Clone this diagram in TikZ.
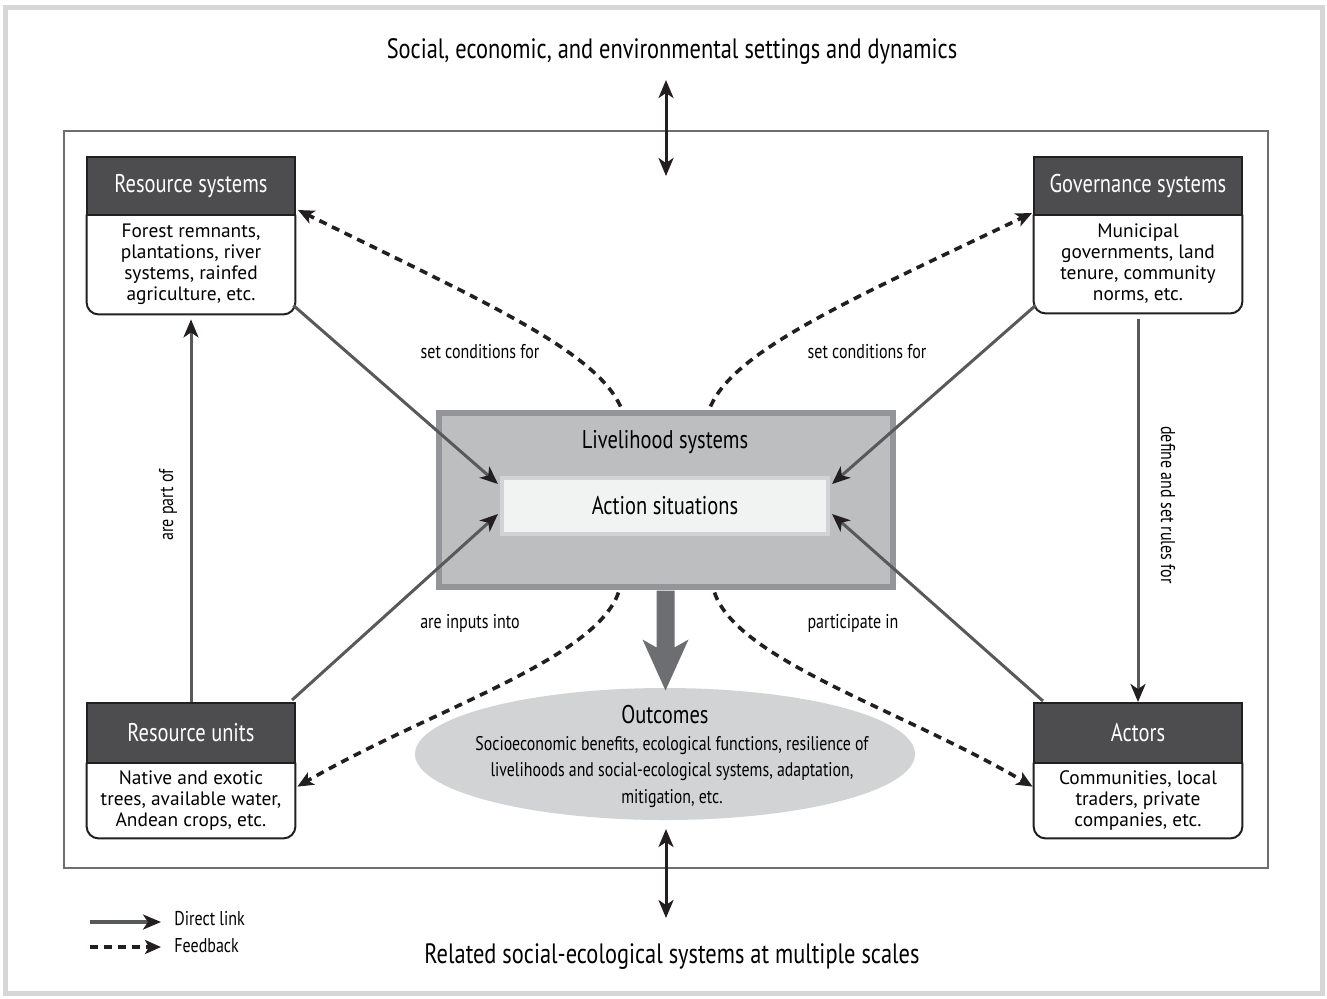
\documentclass[tikz,border=0pt]{standalone}
\usepackage{fontspec}
\setmainfont{PT Sans}
\newfontfamily\cond[FakeStretch=0.8]{PT Sans}
\usetikzlibrary{arrows.meta,shapes.geometric,calc}
\definecolor{hdrgray}{HTML}{4D4D4F}
\definecolor{boxblack}{HTML}{231F20}
\definecolor{linkgray}{HTML}{58595B}
\definecolor{lsfill}{HTML}{BCBEC0}
\definecolor{lsborder}{HTML}{939598}
\definecolor{asfill}{HTML}{F1F2F2}
\definecolor{asborder}{HTML}{D1D3D4}
\definecolor{bigarrow}{HTML}{6D6E71}
\definecolor{ocfill}{HTML}{D1D3D4}
\definecolor{framegray}{HTML}{D6D6D6}
\definecolor{innergray}{HTML}{6D6E71}
\tikzset{
  hdr/.style={draw=boxblack, line width=1pt, fill=hdrgray, text=white,
    minimum width=104pt, minimum height=29pt, inner sep=0pt,
    font=\cond\fontsize{12.8}{14}\selectfont},
  bodyn/.style={minimum width=104pt, inner sep=0pt, align=center,
    font=\fontsize{9.7}{10.5}\selectfont},
  bodyframe/.style={draw=boxblack, line width=1pt, rounded corners=6pt},
  link/.style={draw=linkgray, line width=1.5pt,
    -{Stealth[length=9pt,width=7.5pt,inset=2.5pt,color=boxblack]}},
  fb/.style={draw=boxblack, line width=1.8pt, dash pattern=on 4pt off 3pt,
    -{Stealth[length=8pt,width=7pt,inset=2pt]}},
  dbl/.style={draw=boxblack, line width=1.5pt,
    {Stealth[length=9pt,width=7.5pt,inset=2.5pt]}-{Stealth[length=9pt,width=7.5pt,inset=2.5pt]}},
  lbl/.style={font=\cond\fontsize{10}{11}\selectfont, inner sep=0pt},
  toptext/.style={font=\cond\fontsize{14}{16}\selectfont, inner sep=0pt},
  midtitle/.style={font=\cond\fontsize{12.8}{14}\selectfont, inner sep=0pt}
}
\begin{document}
\begin{tikzpicture}[x=0.5pt,y=-0.5pt]
\useasboundingbox (0,0) rectangle (1327,998);
\draw[draw=framegray, line width=2.5pt] (5,7) rectangle (1322,993);
\draw[draw=innergray, line width=1pt] (64,131) rectangle (1268,868);

% top and bottom texts
\node[toptext] (settings) at (672,51) {Social, economic, and environmental settings and dynamics};
\node[toptext] (related) at (672,957) {Related social-ecological systems at multiple scales};
\coordinate (ta1) at (666,80);
\coordinate (ta2) at (666,176);
\coordinate (ba1) at (666,829);
\coordinate (ba2) at (666,918);

% resource systems
\node[bodyn, minimum height=49.5pt] (rsb) at (191,264.5) {Forest remnants,\\plantations, river\\systems, rainfed\\agriculture, etc.};
\draw[bodyframe] (rsb.north west) -- (rsb.south west) -- (rsb.south east) -- (rsb.north east);
\node[hdr] (rsh) at (191,186) {Resource systems};

% governance systems
\node[bodyn, minimum height=49pt] (gvb) at (1138,264) {Municipal\\governments, land\\tenure, community\\norms, etc.};
\draw[bodyframe] (gvb.north west) -- (gvb.south west) -- (gvb.south east) -- (gvb.north east);
\node[hdr] (gvh) at (1138,186) {Governance systems};

% resource units
\node[bodyn, minimum height=37.5pt] (rub) at (191,800.5) {Native and exotic\\trees, available water,\\Andean crops, etc.};
\draw[bodyframe] (rub.north west) -- (rub.south west) -- (rub.south east) -- (rub.north east);
\node[hdr, minimum height=30pt] (ruh) at (191,733) {Resource units};

% actors
\node[bodyn, minimum height=37.5pt] (acb) at (1138,800.5) {Communities, local\\traders, private\\companies, etc.};
\draw[bodyframe] (acb.north west) -- (acb.south west) -- (acb.south east) -- (acb.north east);
\node[hdr, minimum height=30pt] (ach) at (1138,733) {Actors};

% livelihood systems
\node[draw=lsborder, fill=lsfill, line width=3pt, minimum width=227pt, minimum height=87pt, inner sep=0pt] (ls) at (665.5,499.5) {};
\node[midtitle] (lst) at (665,442) {Livelihood systems};
\node[draw=asborder, fill=asfill, line width=2pt, minimum width=163pt, minimum height=28pt, inner sep=0pt, midtitle] (as) at (665,506) {Action situations};

% outcomes
\node[ellipse, fill=ocfill, minimum width=250pt, minimum height=66pt, inner sep=0pt] (oc) at (665,754) {};
\node[midtitle] (oct) at (665,715) {Outcomes};
\node[lbl, align=center, font=\cond\fontsize{9.9}{13.2}\selectfont] (ocx) at (672,772) {Socioeconomic benefits, ecological functions, resilience of\\livelihoods and social-ecological systems, adaptation,\\mitigation, etc.};

% big arrow
\fill[bigarrow] ([shift={(-9,1)}]ls.south) -- ([shift={(9,1)}]ls.south) -- ([shift={(9,58)}]ls.south)
  -- ([shift={(23,50)}]ls.south) -- ([shift={(0,101)}]ls.south) -- ([shift={(-23,50)}]ls.south)
  -- ([shift={(-9,58)}]ls.south) -- cycle;

% double arrows
\draw[dbl] (ta1) -- (ta2);
\draw[dbl] (ba1) -- (ba2);

% direct links
\draw[link] ([shift={(-2,-9)}]rsb.south east) -- ([shift={(-2,-22)}]as.west);
\draw[link] ([shift={(-4,-2)}]ruh.north east) -- ([shift={(-2,8)}]as.west);
\draw[link] ([shift={(2,-8)}]gvb.south west) -- ([shift={(2,-22)}]as.east);
\draw[link] ([shift={(10,-1)}]ach.north west) -- ([shift={(2,8)}]as.east);
\draw[link] (ruh.north) -- ([shift={(0,5)}]rsb.south);
\draw[link] ([shift={(0,6)}]gvb.south) -- (ach.north);

% feedbacks
\draw[fb] ([shift={(-45,-3)}]ls.north) .. controls (595,350) and (480,300) .. ([shift={(2,-6)}]rsh.south east);
\draw[fb] ([shift={(45,-3)}]ls.north) .. controls (735,350) and (850,300) .. ([shift={(-1,-3)}]gvh.south west);
\draw[fb] ([shift={(-47,3)}]ls.south) .. controls (595,660) and (430,710) .. ([shift={(2,24)}]rub.north east);
\draw[fb] ([shift={(49,3)}]ls.south) .. controls (737,660) and (902,710) .. ([shift={(-1,24)}]acb.north west);

% labels
\node[lbl] (l1) at (480,352) {set conditions for};
\node[lbl] (l2) at (867,352) {set conditions for};
\node[lbl] (l3) at (470,623) {are inputs into};
\node[lbl] (l4) at (853,623) {participate in};
\node[lbl, rotate=90] (l5) at (168,505) {are part of};
\node[lbl, rotate=-90] (l6) at (1168,505) {define and set rules for};

% legend
\coordinate (lga) at (90,922);
\coordinate (lgb) at (161,922);
\coordinate (lgc) at (90,947);
\coordinate (lgd) at (161,947);
\draw[link, line width=2pt] (lga) -- (lgb);
\draw[fb] (lgc) -- (lgd);
\node[lbl, anchor=west] (lgt1) at (174,919) {Direct link};
\node[lbl, anchor=west] (lgt2) at (174,946) {Feedback};
\end{tikzpicture}
\end{document}
